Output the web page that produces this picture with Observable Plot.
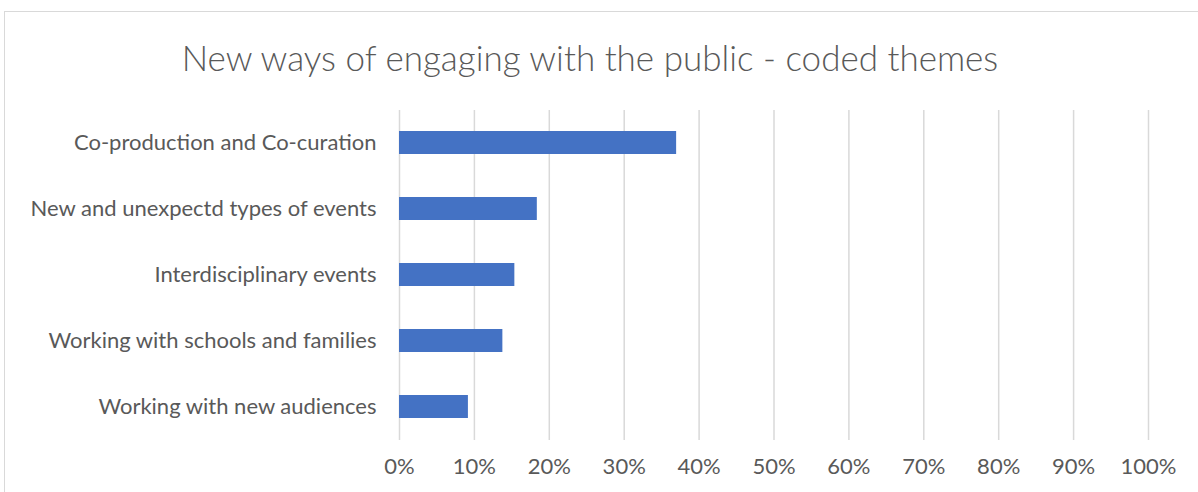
<!DOCTYPE html>
<html>
<head>
<meta charset="utf-8">
<script src="https://cdn.jsdelivr.net/npm/d3@7"></script>
<script src="https://cdn.jsdelivr.net/npm/@observablehq/plot@0.6"></script>
<style>
  html, body { margin: 0; padding: 0; background: #fff; overflow: hidden; }
  #wrap { position: relative; width: 1198px; height: 492px; }
  #frame { position: absolute; left: 4px; top: 11px; width: 1300px; height: 600px; border: 1px solid #d9d9d9; box-sizing: border-box; }
  #title { position: absolute; left: 0; top: 36px; width: 1180px; text-align: center; font-family: Lato, sans-serif; font-weight: 300; font-size: 35px; color: #595959; line-height: 42px; }
  #chart { position: absolute; left: 0; top: 0; }
</style>
</head>
<body>
<div id="wrap">
  <div id="frame"></div>
  <div id="title">New ways of engaging with the public - coded themes</div>
  <div id="chart"></div>
</div>
<script>
const categories = [
  "Co-production and Co-curation",
  "New and unexpectd types of events",
  "Interdisciplinary events",
  "Working with schools and families",
  "Working with new audiences"
];
const shares = [0.37, 0.184, 0.154, 0.138, 0.092];
const xTicks = [0, 0.1, 0.2, 0.3, 0.4, 0.5, 0.6, 0.7, 0.8, 0.9, 1.0];

const data = categories.map((c, i) => ({category: c, share: shares[i]}));

const chart = Plot.plot({
  width: 1198,
  height: 492,
  marginTop: 110,
  marginBottom: 52,
  marginLeft: 399,
  marginRight: 50,
  style: {fontFamily: "Lato, sans-serif", fontSize: "22px", color: "#595959", background: "transparent"},
  x: {domain: [0, 1], ticks: xTicks, tickFormat: d3.format(".0%"), tickSize: 0, tickPadding: 18, label: null},
  y: {domain: categories, paddingInner: 0.65, paddingOuter: 0.325, align: 0.5, tickSize: 0, tickPadding: 23, label: null},
  marks: [
    Plot.ruleX(xTicks, {stroke: "#d9d9d9", strokeWidth: 1.5}),
    Plot.barX(data, {x: "share", y: "category", fill: "#4472c4"})
  ]
});
document.getElementById("chart").appendChild(chart);
</script>
</body>
</html>
